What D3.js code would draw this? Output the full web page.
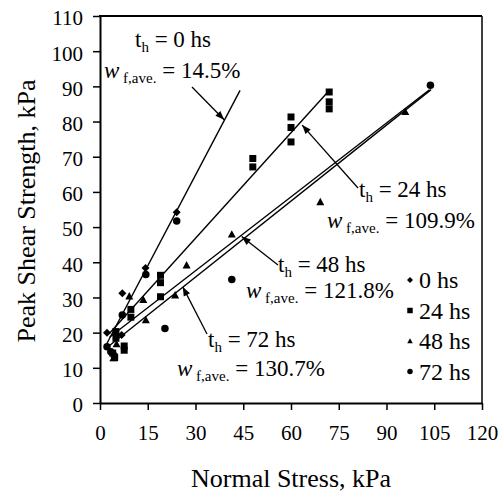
<!DOCTYPE html>
<html><head><meta charset="utf-8">
<script src="https://cdn.jsdelivr.net/npm/d3@7"></script>
</head><body style="margin:0">
<svg id="c" width="504" height="493" font-family="Liberation Serif"></svg>
<script>
// ---- data ----
const seriesNames = ["0 hs", "24 hs", "48 hs", "72 hs"];
const pts0 = [[2.2,20],[7,31.2],[6.8,19.3],[14.3,38.4],[24.1,54.2]];
const pts24 = [[72,88.4],[72,85.6],[72,83.6],[60,81.3],[60,78.3],[60,74.2],[48,69.5],[48,67.1],
  [19,36.3],[19,34.2],[19,30.2],[9.7,26.6],[9.7,24.4],[5,20.3],[5,18.4],[4,14.2],[4.6,12.9],[7.6,16.2],[7.6,15]];
const pts48 = [[95.9,82.8],[69.2,57.2],[41.4,48],[27.2,39.2],[23.6,30.7],[13.6,29.4],[14.4,23.6],[9.2,30.4],[4.2,12.8],[5.2,16.8]];
const pts72 = [[103.8,90.3],[24.1,51.7],[14.4,36.5],[7,25],[41.4,35.1],[20.4,21.2],[2.2,16],[4.5,13.4],[3.4,14.6]];
// trend lines: slope, intercept, x start, x end
const fitSlope = [1.72, 1.0, 0.70, 0.72];
const fitIntercept = [13.2, 16.8, 16.6, 14.2];
const fitStart = [2.2, 3, 3, 3];
const fitEnd = [44, 72, 103.5, 104];
const xTicks = [0,15,30,45,60,75,90,105,120];
const yTicks = [0,10,20,30,40,50,60,70,80,90,100,110];
const annHours = ["0 hs","24 hs","48 hs","72 hs"];
const annMoisture = ["14.5%","109.9%","121.8%","130.7%"];
// annotation arrow tips in data coordinates
const arrowTipX = [39, 63.5, 44.5, 26];
const arrowTipY = [80.5, 79, 47.3, 33];

const FONT = "Liberation Serif";

// ---- layout ----
const svg = d3.select("#c");
const x = d3.scaleLinear().domain([0,120]).range([100,482]);
const y = d3.scaleLinear().domain([0,110]).range([403,16]);

// axes
const gx = svg.append("g").attr("transform","translate(0,403)")
  .call(d3.axisBottom(x).tickValues(xTicks).tickSize(7).tickPadding(15).tickSizeOuter(0));
const gy = svg.append("g").attr("transform","translate(100,0)")
  .call(d3.axisLeft(y).tickValues(yTicks).tickSize(7).tickPadding(10).tickSizeOuter(0));
[gx,gy].forEach(g=>{
  g.attr("font-family",FONT).attr("font-size",21);
  g.select(".domain").attr("stroke","#000").attr("stroke-width",2);
  g.selectAll(".tick line").attr("stroke","#000").attr("stroke-width",1.5);
  g.selectAll(".tick text").attr("font-family",FONT).attr("font-size",21).attr("fill","#000");
});
gy.selectAll(".tick text").attr("dy","0.42em");
gx.selectAll(".tick text").attr("dy","0.71em");
// box top/right
svg.append("line").attr("x1",x(0)-1).attr("x2",x(120)).attr("y1",y(110)).attr("y2",y(110)).attr("stroke","#000").attr("stroke-width",2);
svg.append("line").attr("x1",x(120)).attr("x2",x(120)).attr("y1",y(110)).attr("y2",y(0)).attr("stroke","#000").attr("stroke-width",1.5);

function txt(sel, size){ return sel.attr("font-family",FONT).attr("font-size",size).attr("fill","#000"); }

// axis titles
txt(svg.append("text"),26).attr("x",291).attr("y",487).attr("text-anchor","middle").text("Normal Stress, kPa");
txt(svg.append("text"),26).attr("transform","translate(35,211) rotate(-90)").attr("text-anchor","middle").text("Peak Shear Strength, kPa");

// trend lines
const fits = fitSlope.map((s,i)=>({s, b:fitIntercept[i], x0:fitStart[i], x1:fitEnd[i]}));
svg.append("g").selectAll("line").data(fits).join("line")
  .attr("x1",d=>x(d.x0)).attr("y1",d=>y(d.s*d.x0+d.b))
  .attr("x2",d=>x(d.x1)).attr("y2",d=>y(d.s*d.x1+d.b))
  .attr("stroke","#000").attr("stroke-width",1.4);

// markers
function markerPath(kind, size){
  if(kind===0){ const h=size/2; return `M0,${-h}L${h},0L0,${h}L${-h},0Z`; }
  if(kind===1){ const h=size/2; return `M${-h},${-h}H${h}V${h}H${-h}Z`; }
  if(kind===2){ const h=size/2; return `M0,${-h}L${h},${h*0.85}L${-h},${h*0.85}Z`; }
  return d3.symbol(d3.symbolCircle, Math.PI*(size/2)*(size/2))();
}
const allPts = [pts0, pts24, pts48, pts72];
const msize = [8, 7, 8, 7.5];
allPts.forEach((pts,k)=>{
  svg.append("g").selectAll("path").data(pts).join("path")
    .attr("transform",d=>`translate(${x(d[0])},${y(d[1])})`)
    .attr("d",markerPath(k,msize[k])).attr("fill","#000");
});

// arrowheads drawn as paths
function arrow(x1,y1,x2,y2){
  svg.append("line").attr("x1",x1).attr("y1",y1).attr("x2",x2).attr("y2",y2)
    .attr("stroke","#000").attr("stroke-width",1.3);
  const a = Math.atan2(y2-y1,x2-x1)*180/Math.PI;
  svg.append("path").attr("transform",`translate(${x2},${y2}) rotate(${a})`)
    .attr("d","M0,0L-9,-3.5L-9,3.5Z").attr("fill","#000");
}

// annotations: label positions (pixel)
const annPos = [
  {tx:135, ty:47, wx:104, wy:78, ax:192, ay:87},
  {tx:359, ty:197, wx:327, wy:228, ax:358, ay:188},
  {tx:278, ty:272, wx:246, wy:298, ax:278, ay:265},
  {tx:208, ty:347, wx:177, wy:376, ax:207, ay:334}
];
annPos.forEach((p,i)=>{
  const t1 = txt(svg.append("text"),23).attr("x",p.tx).attr("y",p.ty);
  t1.append("tspan").text("t");
  t1.append("tspan").attr("font-size",15).attr("dy",5).text("h");
  t1.append("tspan").attr("dy",-5).text(" = "+annHours[i]);
  const t2 = txt(svg.append("text"),23).attr("x",p.wx).attr("y",p.wy);
  t2.append("tspan").attr("font-style","italic").text("w");
  t2.append("tspan").attr("font-size",15).attr("dy",5).text(" f,ave.");
  t2.append("tspan").attr("dy",-5).text(" = "+annMoisture[i]);
  arrow(p.ax,p.ay,x(arrowTipX[i]),y(arrowTipY[i]));
});

// legend
const lg = svg.append("g");
seriesNames.forEach((n,i)=>{
  const yy = 280 + i*30.5;
  lg.append("path").attr("transform",`translate(410,${yy})`).attr("d",markerPath(i,i===0?6:5.5)).attr("fill","#000");
  txt(lg.append("text"),24).attr("x",419).attr("y",yy+8).text(n);
});
</script></body></html>
